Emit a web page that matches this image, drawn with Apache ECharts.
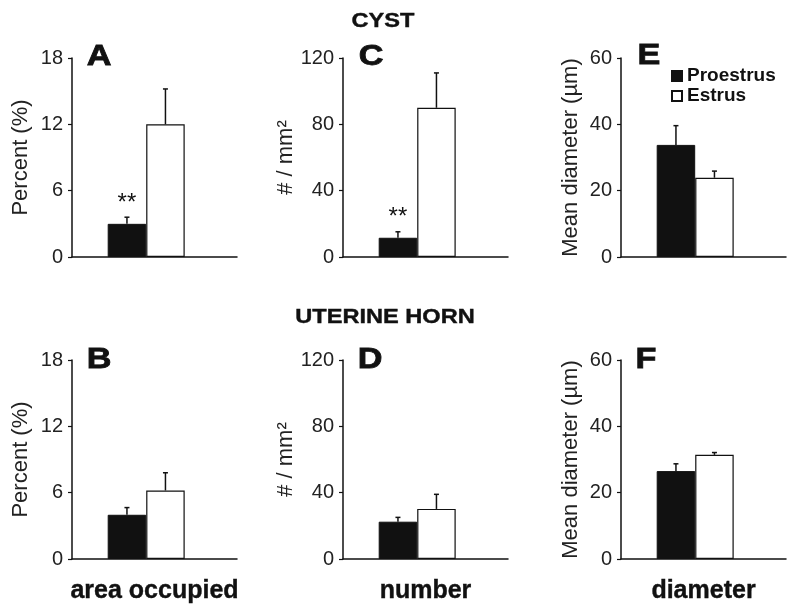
<!DOCTYPE html>
<html><head><meta charset="utf-8">
<script src="https://cdn.jsdelivr.net/npm/echarts@6/dist/echarts.min.js"></script>
<style>html,body{margin:0;padding:0;background:#fff}#c{width:800px;height:610px}</style>
</head><body><div id="c"></div>
<script>
// ---- data ----
const groups = ['Proestrus', 'Estrus'];
const cystArea = [3.0, 12.0];
const cystAreaErr = [0.6, 3.2];
const cystAreaSig = ['**', ''];
const cystNumber = [11.6, 90.0];
const cystNumberErr = [3.6, 21.0];
const cystNumberSig = ['**', ''];
const cystDiameter = [33.8, 23.9];
const cystDiameterErr = [5.8, 2.0];
const cystDiameterSig = ['', ''];
const hornArea = [4.0, 6.2];
const hornAreaErr = [0.65, 1.6];
const hornAreaSig = ['', ''];
const hornNumber = [22.5, 30.2];
const hornNumberErr = [2.6, 8.8];
const hornNumberSig = ['', ''];
const hornDiameter = [26.5, 31.4];
const hornDiameterErr = [2.2, 0.7];
const hornDiameterSig = ['', ''];
const measureLabels = ['area occupied', 'number', 'diameter'];
const yAxisNames = ['Percent (%)', '# / mm\u00B2', 'Mean diameter (\u00B5m)'];
const yMax = [18, 120, 60];
const yInterval = [6, 40, 20];
const panelLetters = ['A', 'C', 'E', 'B', 'D', 'F'];
const sectionTitles = ['CYST', 'UTERINE HORN'];

const panelVals = [cystArea, cystNumber, cystDiameter, hornArea, hornNumber, hornDiameter];
const panelErrs = [cystAreaErr, cystNumberErr, cystDiameterErr, hornAreaErr, hornNumberErr, hornDiameterErr];
const panelSigs = [cystAreaSig, cystNumberSig, cystDiameterSig, hornAreaSig, hornNumberSig, hornDiameterSig];

// ---- layout / style ----
const FONT = '"Liberation Sans", Arial, sans-serif';
const gridLefts = [72, 343, 621];
const gridTops = [58, 360];
const gridW = 165, gridH = 199;
const nameGaps = [40, 43, 39];
const BW = 38.5, SPACER = 16.6;
const TOTAL = BW * 2 + SPACER;
const offsets = [-TOTAL / 2 + BW / 2, -TOTAL / 2 + BW + BW / 2];
const letterPos = [[99, 57], [371, 56.5], [649, 56], [99, 359.5], [370, 359.5], [646, 360]];
const titlePos = [[383, 21.5], [385, 317.5]];

const grids = [], xAxes = [], yAxes = [], series = [], graphics = [];
for (let p = 0; p < 6; p++) {
  const row = p < 3 ? 0 : 1, col = p % 3;
  grids.push({left: gridLefts[col], top: gridTops[row], width: gridW, height: gridH, containLabel: false});
  xAxes.push({
    type: 'category', gridIndex: p, data: [measureLabels[col]],
    axisLine: {lineStyle: {color: '#111', width: 1.5}},
    axisTick: {show: false}, axisLabel: {show: false},
    name: row === 1 ? measureLabels[col] : '',
    nameLocation: 'middle', nameGap: 20,
    nameTextStyle: {fontFamily: FONT, fontWeight: 'bold', fontSize: 25, color: '#111',
      textBorderColor: '#111', textBorderWidth: 0.4}
  });
  yAxes.push({
    type: 'value', gridIndex: p, min: 0, max: yMax[col], interval: yInterval[col],
    axisLine: {show: true, lineStyle: {color: '#111', width: 1.5}},
    axisTick: {show: true, length: 4, lineStyle: {color: '#111', width: 1.2}},
    axisLabel: {fontFamily: FONT, fontSize: 20, color: '#222', margin: 9},
    splitLine: {show: false},
    name: yAxisNames[col], nameLocation: 'middle', nameGap: nameGaps[col],
    nameTextStyle: {fontFamily: FONT, fontSize: 22, color: '#222'}
  });
  const vals = panelVals[p], errs = panelErrs[p], sig = panelSigs[p];
  series.push({
    type: 'bar', name: groups[0], xAxisIndex: p, yAxisIndex: p, data: [vals[0]],
    barWidth: BW, barGap: '0%', itemStyle: {color: '#111', borderColor: '#111', borderWidth: 1}
  });
  series.push({
    type: 'bar', name: groups[1], xAxisIndex: p, yAxisIndex: p, data: [vals[1]],
    barWidth: BW, barGap: '0%', itemStyle: {color: '#fff', borderColor: '#111', borderWidth: 1.2}
  });
  series.push({
    type: 'bar', xAxisIndex: p, yAxisIndex: p, data: ['-'], silent: true,
    barWidth: SPACER, barGap: '0%', itemStyle: {opacity: 0}
  });
  series.push({
    type: 'custom', xAxisIndex: p, yAxisIndex: p, silent: true, z: 5,
    encode: {x: 0, y: 1},
    data: groups.map((g, i) => [0, vals[i], vals[i] + errs[i], i]),
    renderItem: function (params, api) {
      const c = api.coord([api.value(0), api.value(1)]);
      const e = api.coord([api.value(0), api.value(2)]);
      const k = api.value(3);
      const x = c[0] + offsets[k];
      const children = [
        {type: 'line', shape: {x1: x, y1: c[1], x2: x, y2: e[1]}, style: {stroke: '#111', lineWidth: 1.5}},
        {type: 'line', shape: {x1: x - 2.5, y1: e[1], x2: x + 2.5, y2: e[1]}, style: {stroke: '#111', lineWidth: 1.5}}
      ];
      if (sig[k]) {
        children.push({type: 'text', x: x, y: e[1] - 14,
          style: {text: sig[k], font: '24px ' + FONT, fill: '#111', align: 'center', verticalAlign: 'middle'}});
      }
      return {type: 'group', children: children};
    }
  });
  graphics.push({
    type: 'text', x: letterPos[p][0], y: letterPos[p][1], scaleX: 1.18,
    style: {text: panelLetters[p], font: 'bold 29px ' + FONT, fill: '#111', align: 'center', verticalAlign: 'middle',
      stroke: '#111', lineWidth: 0.8}
  });
}
sectionTitles.forEach((t, i) => {
  graphics.push({
    type: 'text', x: titlePos[i][0], y: titlePos[i][1], scaleX: 1.18,
    style: {text: t, font: 'bold 20px ' + FONT, fill: '#111', align: 'center', verticalAlign: 'middle',
      stroke: '#111', lineWidth: 0.4}
  });
});

const chart = echarts.init(document.getElementById('c'), null, {renderer: 'canvas'});
chart.setOption({
  backgroundColor: '#fff',
  animation: false,
  grid: grids, xAxis: xAxes, yAxis: yAxes, series: series, graphic: graphics,
  legend: {
    data: groups, orient: 'vertical', left: 666, top: 61,
    itemWidth: 10, itemHeight: 10, itemGap: 0, icon: 'rect',
    textStyle: {fontFamily: FONT, fontWeight: 'bold', fontSize: 19, color: '#111', lineHeight: 20}
  }
});
</script></body></html>
